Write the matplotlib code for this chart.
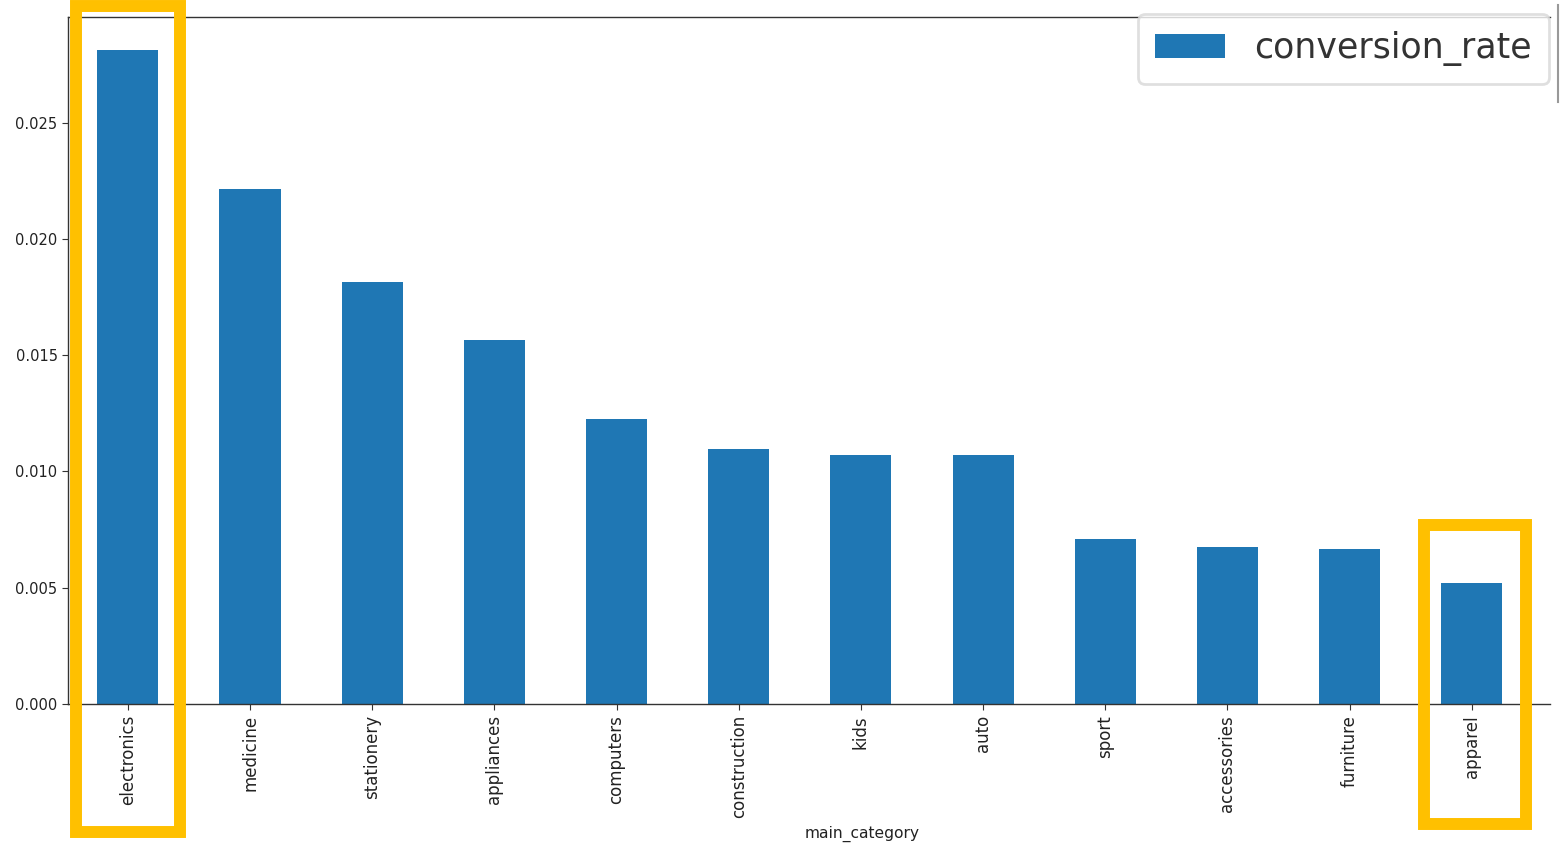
import matplotlib
matplotlib.use("Agg")
import matplotlib.pyplot as plt
from matplotlib.patches import Rectangle
from matplotlib.lines import Line2D
import numpy as np

categories = ["electronics", "medicine", "stationery", "appliances", "computers",
              "construction", "kids", "auto", "sport", "accessories", "furniture", "apparel"]
conversion_rate = [0.02814, 0.02216, 0.01813, 0.01564, 0.01224, 0.01095,
                   0.01070, 0.01069, 0.00709, 0.00674, 0.00666, 0.00520]
yticks = [0.000, 0.005, 0.010, 0.015, 0.020, 0.025]

W, H = 1561, 852
fig = plt.figure(figsize=(W / 100, H / 100), dpi=100)
ax = fig.add_axes([68 / W, 1 - 704 / H, (1550 - 68) / W, (704 - 17) / H])

x = np.arange(len(categories))
ax.bar(x, conversion_rate, width=0.5, color="#1f77b4", label="conversion_rate")

ax.set_xlim(-0.49, len(categories) - 1 + 0.64)
ax.set_ylim(0, max(conversion_rate) * 1.05)
ax.set_xticks(x)
ax.set_xticklabels(categories, rotation=90, fontsize=12, color="#222222")
ax.set_yticks(yticks)
ax.set_yticklabels([f"{v:.3f}" for v in yticks], fontsize=10.5, color="#222222")
ax.tick_params(axis="both", length=4, color="#333333")
ax.tick_params(axis="x", pad=4)
ax.spines["right"].set_visible(False)
for s in ["left", "bottom", "top"]:
    ax.spines[s].set_color("#333333")
    ax.spines[s].set_linewidth(1.0)
ax.set_xlabel("main_category", fontsize=11.2, color="#222222")
ax.xaxis.set_label_coords((862 - 68) / (1550 - 68), -(826 - 704) / (704 - 17))

leg = ax.legend(loc="upper left", bbox_to_anchor=(1138 / W, 1 - 14 / H),
                bbox_transform=fig.transFigure, fontsize=25, frameon=True,
                handlelength=2.0, handleheight=0.7, handletextpad=0.85,
                borderpad=0.5, borderaxespad=0, fancybox=True)
leg.set_zorder(10)
leg.get_frame().set_edgecolor("#d8d8d8")
leg.get_frame().set_linewidth(2.0)
for t in leg.get_texts():
    t.set_color("#333333")

# highlight boxes around first and last category
orange = "#FFC000"
ax.add_patch(Rectangle((0 - 0.425, -0.0055), 0.85, 0.0355, fill=False,
                       edgecolor=orange, linewidth=8.6, clip_on=False, zorder=5))
ax.add_patch(Rectangle((11 - 0.393, -0.00515), 0.833, 0.01284, fill=False,
                       edgecolor=orange, linewidth=8.6, clip_on=False, zorder=5))

# small vertical border fragment at the right edge
fig.add_artist(Line2D([1558 / W, 1558 / W], [1 - 5 / H, 1 - 102 / H],
                      transform=fig.transFigure, color="#999999", linewidth=1.5))

fig.savefig("out.png", dpi=100)
